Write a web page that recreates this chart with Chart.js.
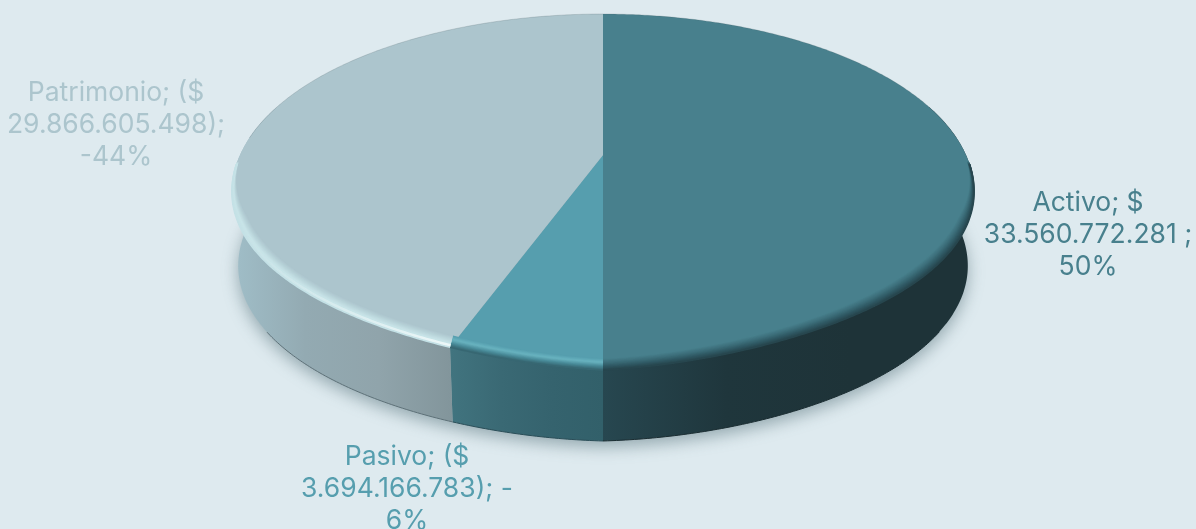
<!DOCTYPE html>
<html>
<head>
<meta charset="utf-8">
<script src="https://cdn.jsdelivr.net/npm/chart.js@4"></script>
<style>
html, body { margin: 0; padding: 0; background: #deeaef; }
canvas { display: block; }
</style>
</head>
<body>
<canvas id="myChart" width="1196" height="529"></canvas>
<script>
const categories = ['Activo', 'Pasivo', 'Patrimonio'];
const values = [33560772281, 3694166783, 29866605498];
const labelLines = [
    ['Activo; $', '33.560.772.281 ;', '50%'],
    ['Pasivo; ($', '3.694.166.783); -', '6%'],
    ['Patrimonio; ($', '29.866.605.498);', '-44%']
];
const faceColors = ['#48808d', '#569eae', '#acc5cd'];
const wallColors = [
    ['#274750', '#1f363c', '#1e3338', '#1e3338'],
    ['#41747f', '#3a6974', '#35636e', '#32606a'],
    ['#a0bec8', '#93aab2', '#90a4ab', '#82959b']
];
// bevel colours, from the wall edge (first) to the face (last)
const bevelColors = [
    ['#27464e', '#305a65', '#3d6f7b', '#48808d'],
    ['#376772', '#4a8c9a', '#69b3c0', '#569eae'],
    ['#c4e1e6', '#c8e4e8', '#b9d4da', '#acc5cd']
];
const edgeColors = ['#1a2c31', '#2a4d57', '#5d7077'];
const labelSpots = [[1088, 203], [407, 457], [116, 93]];

// perspective used to lay the flat pie down, taken on the arc geometry of the chart
const view = { sx: 363 / 155, sy: 170.3 / 155, c: -0.208, shrink: 0.983, depth: 74.6, bevelY: 11, bevelX: 0.018, bulgeTop: 8, bulgeLow: 4 };

function rawPoint(el, angle) {
    const u = Math.cos(angle), v = Math.sin(angle);
    const w = 1 + view.c * v;
    return [el.x + view.sx * el.outerRadius * u / w, el.y + view.sy * el.outerRadius * v / w];
}
function bulge(angle) {
    const v = Math.sin(angle);
    if (v <= 0) return 0;
    return Math.sin(Math.PI * Math.abs(Math.cos(angle))) * Math.min(1, v / 0.3);
}
function topPoint(el, angle) {
    const p = rawPoint(el, angle);
    return [p[0], p[1] - view.bulgeTop * bulge(angle)];
}
function lowPoint(el, angle) {
    const p = rawPoint(el, angle);
    return [el.x + (p[0] - el.x) * view.shrink, el.y + view.depth + (p[1] - el.y) * view.shrink - view.bulgeLow * bulge(angle)];
}
function bevelPoint(el, angle, t) {
    const p = topPoint(el, angle);
    const f = Math.max(0, Math.min(1, (Math.sin(angle) + 0.1) / 0.5));
    return [el.x + (p[0] - el.x) * (1 - view.bevelX * t * f), p[1] - view.bevelY * t * f];
}
function arcAngles(el, nearOnly) {
    const list = [];
    const steps = Math.ceil((el.endAngle - el.startAngle) / 0.01);
    for (let i = 0; i <= steps; i++) {
        const a = el.startAngle + (el.endAngle - el.startAngle) * i / steps;
        if (nearOnly === undefined || Math.sin(a) > nearOnly) list.push(a);
    }
    return list;
}
function tracePoints(ctx, pts, start) {
    pts.forEach((p, i) => {
        if (i === 0 && start) ctx.moveTo(p[0], p[1]);
        else ctx.lineTo(p[0], p[1]);
    });
}
function mixStops(stops, t) {
    const pos = t * (stops.length - 1);
    const i = Math.min(stops.length - 2, Math.floor(pos));
    const k = pos - i;
    const a = stops[i], b = stops[i + 1];
    const out = [1, 3, 5].map(s => {
        const x = parseInt(a.substr(s, 2), 16), y = parseInt(b.substr(s, 2), 16);
        return Math.round(x + (y - x) * k);
    });
    return 'rgb(' + out.join(',') + ')';
}

const disc3d = {
    id: 'disc3d',
    beforeDatasetsDraw(chart) {
        const ctx = chart.ctx;
        const arcs = chart.getDatasetMeta(0).data;

        // soft shadow under the disc
        ctx.save();
        ctx.filter = 'blur(8px)';
        ctx.fillStyle = 'rgba(60,90,100,0.45)';
        ctx.beginPath();
        arcs.forEach((el, n) => {
            tracePoints(ctx, arcAngles(el).map(a => lowPoint(el, a)).map(p => [p[0], p[1] + 6]), n === 0);
        });
        ctx.closePath();
        ctx.fill();
        ctx.restore();

        // side walls
        arcs.forEach((el, n) => {
            const near = arcAngles(el, -0.3);
            if (!near.length) return;
            const tops = near.map(a => topPoint(el, a));
            const lows = near.map(a => lowPoint(el, a));
            const xs = tops.concat(lows).map(p => p[0]);
            const left = Math.min.apply(null, xs), right = Math.max.apply(null, xs);
            const grad = ctx.createLinearGradient(left, 0, right, 0);
            const stops = wallColors[n];
            stops.forEach((c, i) => grad.addColorStop(i / (stops.length - 1), c));
            ctx.fillStyle = grad;
            ctx.beginPath();
            tracePoints(ctx, tops, true);
            tracePoints(ctx, lows.slice().reverse(), false);
            ctx.closePath();
            ctx.fill();
            // thin dark line at the foot of the wall
            ctx.strokeStyle = edgeColors[n];
            ctx.lineWidth = 1;
            ctx.beginPath();
            tracePoints(ctx, arcAngles(el, 0.55).map(a => lowPoint(el, a)), true);
            ctx.stroke();
        });

        // top faces
        arcs.forEach((el, n) => {
            ctx.fillStyle = faceColors[n];
            ctx.beginPath();
            ctx.moveTo(el.x, el.y);
            tracePoints(ctx, arcAngles(el).map(a => topPoint(el, a)), false);
            ctx.closePath();
            ctx.fill();
            // faint line on the far edge
            ctx.strokeStyle = 'rgba(60,80,85,0.18)';
            ctx.lineWidth = 1;
            ctx.beginPath();
            tracePoints(ctx, arcAngles(el).filter(a => Math.sin(a) < -0.1).map(a => topPoint(el, a)), true);
            ctx.stroke();
        });

        // bevel along the near edge
        ctx.save();
        ctx.filter = 'blur(0.7px)';
        arcs.forEach((el, n) => {
            const near = arcAngles(el, 0.05);
            if (!near.length) return;
            for (let s = 14; s >= 0; s--) {
                const t = s / 14;
                ctx.strokeStyle = mixStops(bevelColors[n], t);
                ctx.lineWidth = 1.6;
                ctx.beginPath();
                tracePoints(ctx, near.map(a => bevelPoint(el, a, t)), true);
                ctx.stroke();
            }
            if (n === 2) {
                // the highlight gets whiter toward the front
                const glow = ctx.createLinearGradient(el.x - view.sx * el.outerRadius, 0, el.x - view.sx * el.outerRadius * 0.4, 0);
                glow.addColorStop(0, 'rgba(245,252,252,0)');
                glow.addColorStop(1, 'rgba(245,252,252,0.85)');
                ctx.strokeStyle = glow;
                ctx.lineWidth = 2.5;
                ctx.beginPath();
                tracePoints(ctx, near.map(a => bevelPoint(el, a, 0.18)), true);
                ctx.stroke();
            }
        });
        ctx.restore();
        return false;
    },
    afterDraw(chart) {
        const ctx = chart.ctx;
        ctx.save();
        ctx.font = '26.5px Inter';
        ctx.textAlign = 'center';
        ctx.textBaseline = 'middle';
        labelLines.forEach((lines, n) => {
            ctx.fillStyle = faceColors[n];
            lines.forEach((line, i) => {
                ctx.fillText(line, labelSpots[n][0], labelSpots[n][1] + i * 32);
            });
        });
        ctx.restore();
    }
};

new Chart(document.getElementById('myChart'), {
    type: 'pie',
    data: {
        labels: categories,
        datasets: [{ data: values, backgroundColor: faceColors, borderWidth: 0 }]
    },
    options: {
        responsive: false,
        animation: false,
        layout: { padding: { left: 10, bottom: 219 } },
        plugins: { legend: { display: false }, tooltip: { enabled: false } }
    },
    plugins: [disc3d]
});
</script>
</body>
</html>
